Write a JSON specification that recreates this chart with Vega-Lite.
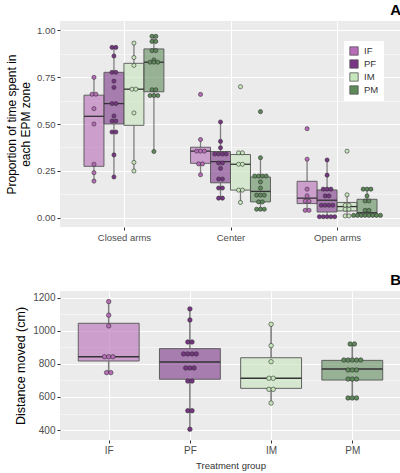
{
  "$schema": "https://vega.github.io/schema/vega-lite/v6.json",
  "padding": {"left": 5, "top": 3, "right": 2, "bottom": 2},
  "config": {
    "view": {"fill": "#EBEBEB", "stroke": null},
    "font": "Liberation Sans",
    "axis": {"domain": false, "tickColor": "#333333", "tickSize": 3, "labelColor": "#4D4D4D", "labelFontSize": 9.5, "gridColor": "#FFFFFF", "gridWidth": 1.1, "titleColor": "#000000", "titleFontWeight": "normal", "labelPadding": 2},
    "title": {"fontSize": 15, "fontWeight": "bold", "anchor": "end", "color": "#000000", "offset": 3},
    "concat": {"spacing": 31}
  },
  "datasets": {
    "topBoxes": [
      {"zone": "Closed arms", "group": "IF", "lower": 0.195, "q1": 0.274, "median": 0.541, "q3": 0.654, "upper": 0.749},
      {"zone": "Closed arms", "group": "PF", "lower": 0.217, "q1": 0.5, "median": 0.609, "q3": 0.776, "upper": 0.909},
      {"zone": "Closed arms", "group": "IM", "lower": 0.249, "q1": 0.493, "median": 0.686, "q3": 0.824, "upper": 0.932},
      {"zone": "Closed arms", "group": "PM", "lower": 0.353, "q1": 0.672, "median": 0.83, "q3": 0.901, "upper": 0.968},
      {"zone": "Center", "group": "IF", "lower": 0.229, "q1": 0.29, "median": 0.355, "q3": 0.376, "upper": 0.417},
      {"zone": "Center", "group": "PF", "lower": 0.104, "q1": 0.186, "median": 0.299, "q3": 0.353, "upper": 0.511},
      {"zone": "Center", "group": "IM", "lower": 0.081, "q1": 0.147, "median": 0.285, "q3": 0.337, "upper": 0.346},
      {"zone": "Center", "group": "PM", "lower": 0.045, "q1": 0.084, "median": 0.14, "q3": 0.217, "upper": 0.32},
      {"zone": "Open arms", "group": "IF", "lower": 0.039, "q1": 0.075, "median": 0.104, "q3": 0.194, "upper": 0.312},
      {"zone": "Open arms", "group": "PF", "lower": 0.005, "q1": 0.03, "median": 0.093, "q3": 0.148, "upper": 0.308},
      {"zone": "Open arms", "group": "IM", "lower": 0.009, "q1": 0.036, "median": 0.059, "q3": 0.081, "upper": 0.122},
      {"zone": "Open arms", "group": "PM", "lower": 0.012, "q1": 0.012, "median": 0.026, "q3": 0.098, "upper": 0.152}
    ],
    "topPts": [
      {"zone": "Closed arms", "group": "IF", "value": 0.749}, {"zone": "Closed arms", "group": "IF", "value": 0.659}, {"zone": "Closed arms", "group": "IF", "value": 0.659}, {"zone": "Closed arms", "group": "IF", "value": 0.582}, {"zone": "Closed arms", "group": "IF", "value": 0.5}, {"zone": "Closed arms", "group": "IF", "value": 0.285}, {"zone": "Closed arms", "group": "IF", "value": 0.24}, {"zone": "Closed arms", "group": "IF", "value": 0.195},
      {"zone": "Closed arms", "group": "PF", "value": 0.909}, {"zone": "Closed arms", "group": "PF", "value": 0.909}, {"zone": "Closed arms", "group": "PF", "value": 0.863}, {"zone": "Closed arms", "group": "PF", "value": 0.776}, {"zone": "Closed arms", "group": "PF", "value": 0.776}, {"zone": "Closed arms", "group": "PF", "value": 0.729}, {"zone": "Closed arms", "group": "PF", "value": 0.695}, {"zone": "Closed arms", "group": "PF", "value": 0.609}, {"zone": "Closed arms", "group": "PF", "value": 0.609}, {"zone": "Closed arms", "group": "PF", "value": 0.543}, {"zone": "Closed arms", "group": "PF", "value": 0.516}, {"zone": "Closed arms", "group": "PF", "value": 0.516}, {"zone": "Closed arms", "group": "PF", "value": 0.457}, {"zone": "Closed arms", "group": "PF", "value": 0.457}, {"zone": "Closed arms", "group": "PF", "value": 0.335}, {"zone": "Closed arms", "group": "PF", "value": 0.217},
      {"zone": "Closed arms", "group": "IM", "value": 0.932}, {"zone": "Closed arms", "group": "IM", "value": 0.855}, {"zone": "Closed arms", "group": "IM", "value": 0.813}, {"zone": "Closed arms", "group": "IM", "value": 0.686}, {"zone": "Closed arms", "group": "IM", "value": 0.686}, {"zone": "Closed arms", "group": "IM", "value": 0.559}, {"zone": "Closed arms", "group": "IM", "value": 0.295}, {"zone": "Closed arms", "group": "IM", "value": 0.249},
      {"zone": "Closed arms", "group": "PM", "value": 0.968}, {"zone": "Closed arms", "group": "PM", "value": 0.968}, {"zone": "Closed arms", "group": "PM", "value": 0.941}, {"zone": "Closed arms", "group": "PM", "value": 0.941}, {"zone": "Closed arms", "group": "PM", "value": 0.892}, {"zone": "Closed arms", "group": "PM", "value": 0.892}, {"zone": "Closed arms", "group": "PM", "value": 0.842}, {"zone": "Closed arms", "group": "PM", "value": 0.83}, {"zone": "Closed arms", "group": "PM", "value": 0.83}, {"zone": "Closed arms", "group": "PM", "value": 0.83}, {"zone": "Closed arms", "group": "PM", "value": 0.683}, {"zone": "Closed arms", "group": "PM", "value": 0.683}, {"zone": "Closed arms", "group": "PM", "value": 0.652}, {"zone": "Closed arms", "group": "PM", "value": 0.652}, {"zone": "Closed arms", "group": "PM", "value": 0.652}, {"zone": "Closed arms", "group": "PM", "value": 0.353},
      {"zone": "Center", "group": "IF", "value": 0.658}, {"zone": "Center", "group": "IF", "value": 0.417}, {"zone": "Center", "group": "IF", "value": 0.355}, {"zone": "Center", "group": "IF", "value": 0.355}, {"zone": "Center", "group": "IF", "value": 0.355}, {"zone": "Center", "group": "IF", "value": 0.287}, {"zone": "Center", "group": "IF", "value": 0.287}, {"zone": "Center", "group": "IF", "value": 0.229},
      {"zone": "Center", "group": "PF", "value": 0.511}, {"zone": "Center", "group": "PF", "value": 0.407}, {"zone": "Center", "group": "PF", "value": 0.373}, {"zone": "Center", "group": "PF", "value": 0.34}, {"zone": "Center", "group": "PF", "value": 0.34}, {"zone": "Center", "group": "PF", "value": 0.34}, {"zone": "Center", "group": "PF", "value": 0.34}, {"zone": "Center", "group": "PF", "value": 0.292}, {"zone": "Center", "group": "PF", "value": 0.292}, {"zone": "Center", "group": "PF", "value": 0.263}, {"zone": "Center", "group": "PF", "value": 0.206}, {"zone": "Center", "group": "PF", "value": 0.206}, {"zone": "Center", "group": "PF", "value": 0.158}, {"zone": "Center", "group": "PF", "value": 0.158}, {"zone": "Center", "group": "PF", "value": 0.104}, {"zone": "Center", "group": "PF", "value": 0.104},
      {"zone": "Center", "group": "IM", "value": 0.699}, {"zone": "Center", "group": "IM", "value": 0.346}, {"zone": "Center", "group": "IM", "value": 0.346}, {"zone": "Center", "group": "IM", "value": 0.285}, {"zone": "Center", "group": "IM", "value": 0.285}, {"zone": "Center", "group": "IM", "value": 0.147}, {"zone": "Center", "group": "IM", "value": 0.147}, {"zone": "Center", "group": "IM", "value": 0.081},
      {"zone": "Center", "group": "PM", "value": 0.566}, {"zone": "Center", "group": "PM", "value": 0.32}, {"zone": "Center", "group": "PM", "value": 0.222}, {"zone": "Center", "group": "PM", "value": 0.222}, {"zone": "Center", "group": "PM", "value": 0.222}, {"zone": "Center", "group": "PM", "value": 0.222}, {"zone": "Center", "group": "PM", "value": 0.191}, {"zone": "Center", "group": "PM", "value": 0.158}, {"zone": "Center", "group": "PM", "value": 0.12}, {"zone": "Center", "group": "PM", "value": 0.12}, {"zone": "Center", "group": "PM", "value": 0.12}, {"zone": "Center", "group": "PM", "value": 0.084}, {"zone": "Center", "group": "PM", "value": 0.084}, {"zone": "Center", "group": "PM", "value": 0.045}, {"zone": "Center", "group": "PM", "value": 0.045}, {"zone": "Center", "group": "PM", "value": 0.045},
      {"zone": "Open arms", "group": "IF", "value": 0.475}, {"zone": "Open arms", "group": "IF", "value": 0.312}, {"zone": "Open arms", "group": "IF", "value": 0.152}, {"zone": "Open arms", "group": "IF", "value": 0.116}, {"zone": "Open arms", "group": "IF", "value": 0.088}, {"zone": "Open arms", "group": "IF", "value": 0.088}, {"zone": "Open arms", "group": "IF", "value": 0.039}, {"zone": "Open arms", "group": "IF", "value": 0.039},
      {"zone": "Open arms", "group": "PF", "value": 0.308}, {"zone": "Open arms", "group": "PF", "value": 0.227}, {"zone": "Open arms", "group": "PF", "value": 0.152}, {"zone": "Open arms", "group": "PF", "value": 0.152}, {"zone": "Open arms", "group": "PF", "value": 0.152}, {"zone": "Open arms", "group": "PF", "value": 0.116}, {"zone": "Open arms", "group": "PF", "value": 0.116}, {"zone": "Open arms", "group": "PF", "value": 0.066}, {"zone": "Open arms", "group": "PF", "value": 0.066}, {"zone": "Open arms", "group": "PF", "value": 0.066}, {"zone": "Open arms", "group": "PF", "value": 0.066}, {"zone": "Open arms", "group": "PF", "value": 0.005}, {"zone": "Open arms", "group": "PF", "value": 0.005}, {"zone": "Open arms", "group": "PF", "value": 0.005}, {"zone": "Open arms", "group": "PF", "value": 0.005}, {"zone": "Open arms", "group": "PF", "value": 0.005},
      {"zone": "Open arms", "group": "IM", "value": 0.355}, {"zone": "Open arms", "group": "IM", "value": 0.122}, {"zone": "Open arms", "group": "IM", "value": 0.066}, {"zone": "Open arms", "group": "IM", "value": 0.066}, {"zone": "Open arms", "group": "IM", "value": 0.045}, {"zone": "Open arms", "group": "IM", "value": 0.045}, {"zone": "Open arms", "group": "IM", "value": 0.009}, {"zone": "Open arms", "group": "IM", "value": 0.009},
      {"zone": "Open arms", "group": "PM", "value": 0.152}, {"zone": "Open arms", "group": "PM", "value": 0.152}, {"zone": "Open arms", "group": "PM", "value": 0.152}, {"zone": "Open arms", "group": "PM", "value": 0.116}, {"zone": "Open arms", "group": "PM", "value": 0.089}, {"zone": "Open arms", "group": "PM", "value": 0.089}, {"zone": "Open arms", "group": "PM", "value": 0.039}, {"zone": "Open arms", "group": "PM", "value": 0.039}, {"zone": "Open arms", "group": "PM", "value": 0.012}, {"zone": "Open arms", "group": "PM", "value": 0.012}, {"zone": "Open arms", "group": "PM", "value": 0.012}, {"zone": "Open arms", "group": "PM", "value": 0.012}, {"zone": "Open arms", "group": "PM", "value": 0.012}, {"zone": "Open arms", "group": "PM", "value": 0.012}, {"zone": "Open arms", "group": "PM", "value": 0.012}, {"zone": "Open arms", "group": "PM", "value": 0.012}
    ],
    "botBoxes": [
      {"group": "IF", "lower": 747, "q1": 817, "median": 843, "q3": 1045, "upper": 1176},
      {"group": "PF", "lower": 405, "q1": 707, "median": 811, "q3": 892, "upper": 1132},
      {"group": "IM", "lower": 563, "q1": 652, "median": 713, "q3": 837, "upper": 1039},
      {"group": "PM", "lower": 594, "q1": 702, "median": 769, "q3": 821, "upper": 920}
    ],
    "botPts": [
      {"group": "IF", "value": 1176}, {"group": "IF", "value": 1094}, {"group": "IF", "value": 1029}, {"group": "IF", "value": 843}, {"group": "IF", "value": 843}, {"group": "IF", "value": 843}, {"group": "IF", "value": 747}, {"group": "IF", "value": 747},
      {"group": "PF", "value": 1132}, {"group": "PF", "value": 1065}, {"group": "PF", "value": 932}, {"group": "PF", "value": 932}, {"group": "PF", "value": 860}, {"group": "PF", "value": 860}, {"group": "PF", "value": 860}, {"group": "PF", "value": 860}, {"group": "PF", "value": 775}, {"group": "PF", "value": 775}, {"group": "PF", "value": 775}, {"group": "PF", "value": 696}, {"group": "PF", "value": 696}, {"group": "PF", "value": 517}, {"group": "PF", "value": 517}, {"group": "PF", "value": 405},
      {"group": "IM", "value": 1039}, {"group": "IM", "value": 910}, {"group": "IM", "value": 813}, {"group": "IM", "value": 713}, {"group": "IM", "value": 713}, {"group": "IM", "value": 646}, {"group": "IM", "value": 646}, {"group": "IM", "value": 563},
      {"group": "PM", "value": 920}, {"group": "PM", "value": 920}, {"group": "PM", "value": 823}, {"group": "PM", "value": 823}, {"group": "PM", "value": 823}, {"group": "PM", "value": 823}, {"group": "PM", "value": 823}, {"group": "PM", "value": 763}, {"group": "PM", "value": 763}, {"group": "PM", "value": 763}, {"group": "PM", "value": 708}, {"group": "PM", "value": 708}, {"group": "PM", "value": 708}, {"group": "PM", "value": 594}, {"group": "PM", "value": 594}, {"group": "PM", "value": 594}
    ]
  },
  "vconcat": [
    {
      "width": 341,
      "height": 206,
      "title": {"text": "A"},
      "resolve": {"axis": {"y": "independent"}},
      "layer": [
        {
          "data": {"name": "topBoxes"},
          "transform": [
            {"calculate": "indexof(['Closed arms','Center','Open arms'], datum.zone) + 1 + (indexof(['IF','PF','IM','PM'], datum.group) - 1.5) * 0.1875", "as": "bc"}
          ],
          "mark": {"type": "rule", "color": "#7F7F7F", "strokeWidth": 1.3},
          "encoding": {
            "x": {"field": "bc", "type": "quantitative", "scale": {"domain": [0.4, 3.6], "nice": false, "zero": false},
              "axis": {"values": [1, 2, 3], "labelExpr": "['Closed arms','Center','Open arms'][datum.value - 1]", "title": null, "grid": true, "labelFontSize": 9.5, "labelPadding": 2}},
            "y": {"field": "lower", "type": "quantitative", "scale": {"domain": [-0.05, 1.05], "nice": false, "zero": false},
              "axis": {"orient": "right", "values": [0.125, 0.375, 0.625, 0.875], "labels": false, "ticks": false, "grid": true, "gridWidth": 0.5, "title": null}},
            "y2": {"field": "q1"}
          }
        },
        {
          "data": {"name": "topBoxes"},
          "transform": [
            {"calculate": "indexof(['Closed arms','Center','Open arms'], datum.zone) + 1 + (indexof(['IF','PF','IM','PM'], datum.group) - 1.5) * 0.1875", "as": "bc"}
          ],
          "mark": {"type": "rule", "color": "#7F7F7F", "strokeWidth": 1.3},
          "encoding": {
            "x": {"field": "bc", "type": "quantitative"},
            "y": {"field": "q3", "type": "quantitative", "axis": null},
            "y2": {"field": "upper"}
          }
        },
        {
          "data": {"name": "topBoxes"},
          "transform": [
            {"calculate": "indexof(['Closed arms','Center','Open arms'], datum.zone) + 1 + (indexof(['IF','PF','IM','PM'], datum.group) - 2) * 0.1875", "as": "bx"},
            {"calculate": "datum.bx + 0.1875", "as": "bx2"}
          ],
          "mark": {"type": "rect", "fillOpacity": 0.6, "stroke": "#555555", "strokeWidth": 0.9},
          "encoding": {
            "x": {"field": "bx", "type": "quantitative"},
            "x2": {"field": "bx2"},
            "y": {"field": "q1", "type": "quantitative",
              "axis": {"values": [0, 0.25, 0.5, 0.75, 1], "format": ".2f", "title": ["Proportion of time spent in", "each EPM zone"], "titleFontSize": 12, "titlePadding": 4, "grid": true}},
            "y2": {"field": "q3"},
            "fill": {"field": "group", "type": "nominal",
              "scale": {"domain": ["IF", "PF", "IM", "PM"], "range": ["#B86BB8", "#783485", "#C6E6BC", "#5E8A5A"]},
              "legend": {"title": null, "orient": "none", "legendX": 284, "legendY": 20, "fillColor": "#FFFFFF", "padding": 5, "symbolType": "square", "symbolSize": 70, "symbolStrokeColor": "#555555", "symbolStrokeWidth": 0.8, "labelFontSize": 9.5, "labelColor": "#333333", "rowPadding": 1, "labelOffset": 5}}
          }
        },
        {
          "data": {"name": "topBoxes"},
          "transform": [
            {"calculate": "indexof(['Closed arms','Center','Open arms'], datum.zone) + 1 + (indexof(['IF','PF','IM','PM'], datum.group) - 2) * 0.1875", "as": "bx"},
            {"calculate": "datum.bx + 0.1875", "as": "bx2"}
          ],
          "mark": {"type": "rule", "color": "#333333", "strokeWidth": 1.3},
          "encoding": {
            "x": {"field": "bx", "type": "quantitative"},
            "x2": {"field": "bx2"},
            "y": {"field": "median", "type": "quantitative", "axis": null}
          }
        },
        {
          "data": {"name": "topPts"},
          "transform": [
            {"joinaggregate": [{"op": "count", "as": "n"}], "groupby": ["zone", "group", "value"]},
            {"window": [{"op": "row_number", "as": "k"}], "groupby": ["zone", "group", "value"]},
            {"calculate": "indexof(['Closed arms','Center','Open arms'], datum.zone) + 1 + (indexof(['IF','PF','IM','PM'], datum.group) - 1.5) * 0.1875 + (datum.k - (datum.n + 1) / 2) * 0.036", "as": "px"}
          ],
          "mark": {"type": "point", "filled": true, "size": 17, "stroke": "#333333", "strokeWidth": 0.6, "opacity": 1},
          "encoding": {
            "x": {"field": "px", "type": "quantitative"},
            "y": {"field": "value", "type": "quantitative", "axis": null},
            "fill": {"field": "group", "type": "nominal", "legend": null}
          }
        }
      ]
    },
    {
      "width": 341,
      "height": 149,
      "title": {"text": "B"},
      "resolve": {"axis": {"y": "independent"}},
      "layer": [
        {
          "data": {"name": "botBoxes"},
          "transform": [
            {"calculate": "indexof(['IF','PF','IM','PM'], datum.group) + 1", "as": "bc"}
          ],
          "mark": {"type": "rule", "color": "#7F7F7F", "strokeWidth": 1.6},
          "encoding": {
            "x": {"field": "bc", "type": "quantitative", "scale": {"domain": [0.4, 4.6], "nice": false, "zero": false},
              "axis": {"values": [1, 2, 3, 4], "labelExpr": "['IF','PF','IM','PM'][datum.value - 1]", "title": "Treatment group", "titleFontSize": 9.5, "titlePadding": 5, "titleColor": "#333333", "grid": true, "labelFontSize": 10}},
            "y": {"field": "lower", "type": "quantitative", "scale": {"domain": [340, 1240], "nice": false, "zero": false},
              "axis": {"orient": "right", "values": [500, 700, 900, 1100], "labels": false, "ticks": false, "grid": true, "gridWidth": 0.5, "title": null}},
            "y2": {"field": "q1"}
          }
        },
        {
          "data": {"name": "botBoxes"},
          "transform": [
            {"calculate": "indexof(['IF','PF','IM','PM'], datum.group) + 1", "as": "bc"}
          ],
          "mark": {"type": "rule", "color": "#7F7F7F", "strokeWidth": 1.6},
          "encoding": {
            "x": {"field": "bc", "type": "quantitative"},
            "y": {"field": "q3", "type": "quantitative", "axis": null},
            "y2": {"field": "upper"}
          }
        },
        {
          "data": {"name": "botBoxes"},
          "transform": [
            {"calculate": "indexof(['IF','PF','IM','PM'], datum.group) + 0.625", "as": "bx"},
            {"calculate": "datum.bx + 0.75", "as": "bx2"}
          ],
          "mark": {"type": "rect", "fillOpacity": 0.6, "stroke": "#555555", "strokeWidth": 0.9},
          "encoding": {
            "x": {"field": "bx", "type": "quantitative"},
            "x2": {"field": "bx2"},
            "y": {"field": "q1", "type": "quantitative",
              "axis": {"values": [400, 600, 800, 1000, 1200], "format": "d", "title": "Distance moved (cm)", "titleFontSize": 12.5, "titlePadding": 5, "grid": true, "labelFontSize": 10}},
            "y2": {"field": "q3"},
            "fill": {"field": "group", "type": "nominal",
              "scale": {"domain": ["IF", "PF", "IM", "PM"], "range": ["#B86BB8", "#783485", "#C6E6BC", "#5E8A5A"]},
              "legend": null}
          }
        },
        {
          "data": {"name": "botBoxes"},
          "transform": [
            {"calculate": "indexof(['IF','PF','IM','PM'], datum.group) + 0.625", "as": "bx"},
            {"calculate": "datum.bx + 0.75", "as": "bx2"}
          ],
          "mark": {"type": "rule", "color": "#333333", "strokeWidth": 1.4},
          "encoding": {
            "x": {"field": "bx", "type": "quantitative"},
            "x2": {"field": "bx2"},
            "y": {"field": "median", "type": "quantitative", "axis": null}
          }
        },
        {
          "data": {"name": "botPts"},
          "transform": [
            {"joinaggregate": [{"op": "count", "as": "n"}], "groupby": ["group", "value"]},
            {"window": [{"op": "row_number", "as": "k"}], "groupby": ["group", "value"]},
            {"calculate": "indexof(['IF','PF','IM','PM'], datum.group) + 1 + (datum.k - (datum.n + 1) / 2) * 0.052", "as": "px"}
          ],
          "mark": {"type": "point", "filled": true, "size": 20, "stroke": "#333333", "strokeWidth": 0.6, "opacity": 1},
          "encoding": {
            "x": {"field": "px", "type": "quantitative"},
            "y": {"field": "value", "type": "quantitative", "axis": null},
            "fill": {"field": "group", "type": "nominal", "legend": null}
          }
        }
      ]
    }
  ],
  "resolve": {"scale": {"fill": "independent"}, "legend": {"fill": "independent"}}
}
